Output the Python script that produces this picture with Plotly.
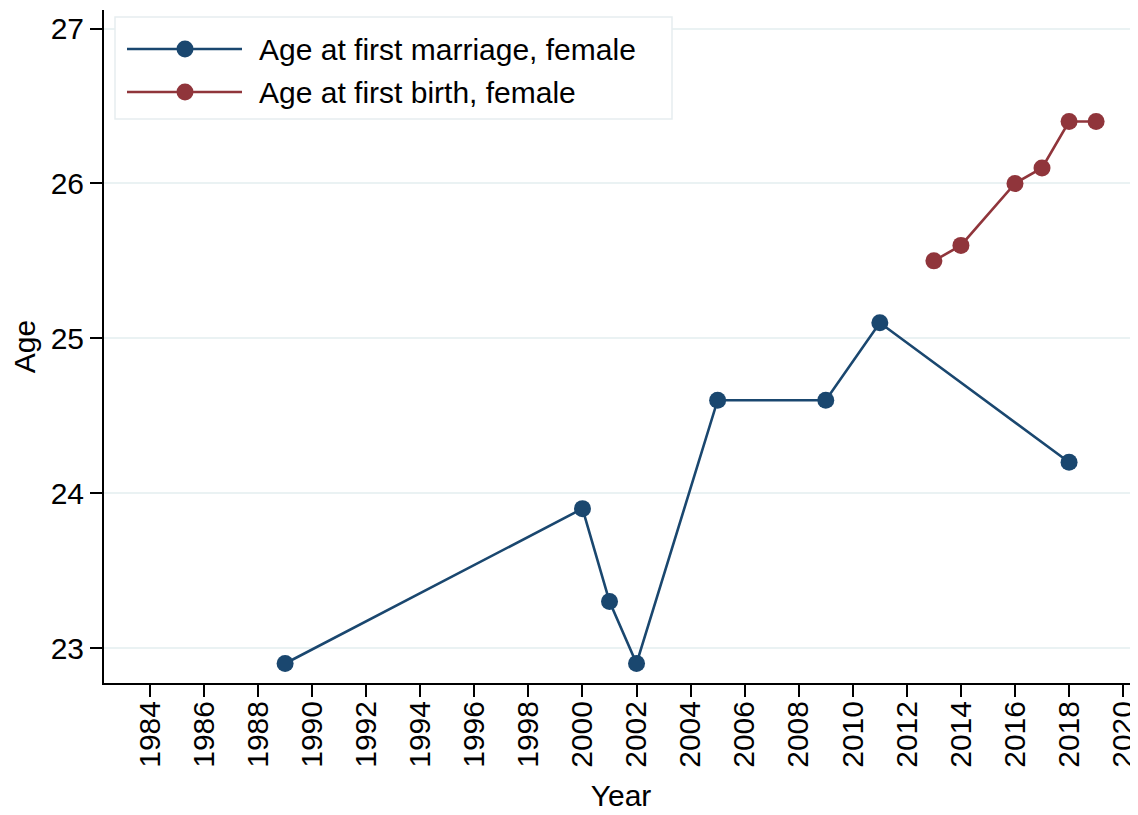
import plotly.graph_objects as go

marriage_years = [1989, 2000, 2001, 2002, 2005, 2009, 2011, 2018]
marriage_age = [22.9, 23.9, 23.3, 22.9, 24.6, 24.6, 25.1, 24.2]
birth_years = [2013, 2014, 2016, 2017, 2018, 2019]
birth_age = [25.5, 25.6, 26.0, 26.1, 26.4, 26.4]
series_names = ["Age at first marriage, female", "Age at first birth, female"]
colors = ["#1a476f", "#90353b"]

FONT = "Liberation Sans, Arial, Helvetica, sans-serif"
FS = 30

fig = go.Figure()
fig.add_trace(go.Scatter(x=marriage_years, y=marriage_age, mode="lines+markers",
                         name=series_names[0], showlegend=False,
                         line=dict(color=colors[0], width=2.6),
                         marker=dict(color=colors[0], size=17)))
fig.add_trace(go.Scatter(x=birth_years, y=birth_age, mode="lines+markers",
                         name=series_names[1], showlegend=False,
                         line=dict(color=colors[1], width=2.6),
                         marker=dict(color=colors[1], size=17)))

OFF = 8  # page body margin
W, H = 1138 - OFF, 815 - OFF
L, R, T = 104 - OFF, 0, 10 - OFF
B = H - (683 - OFF)
pw, ph = W - L - R, H - T - B

def px(x):
    return (x - OFF - L) / pw

def py(y):
    return (H - B - (y - OFF)) / ph

shapes = [dict(type="rect", xref="paper", yref="paper",
               x0=px(115), x1=px(672), y0=py(119), y1=py(17),
               line=dict(color="#e6edf0", width=1.5), fillcolor="white", layer="above")]
annotations = []
for i, (nm, c) in enumerate(zip(series_names, colors)):
    yy = 49 + i * 43
    shapes.append(dict(type="line", xref="paper", yref="paper",
                       x0=px(127), x1=px(242), y0=py(yy), y1=py(yy),
                       line=dict(color=c, width=2.6), layer="above"))
    shapes.append(dict(type="circle", xref="paper", yref="paper",
                       xsizemode="pixel", ysizemode="pixel",
                       xanchor=px(185), yanchor=py(yy),
                       x0=-8.5, x1=8.5, y0=-8.5, y1=8.5,
                       fillcolor=c, line=dict(color=c, width=0), layer="above"))
    annotations.append(dict(text=nm, xref="paper", yref="paper",
                            x=px(257), y=py(yy), xanchor="left", yanchor="middle",
                            showarrow=False, font=dict(size=FS, color="black", family=FONT)))

fig.update_layout(
    width=W, height=H,
    margin=dict(l=L, r=R, t=T, b=B),
    paper_bgcolor="white", plot_bgcolor="white",
    font=dict(family=FONT, size=FS, color="black"),
    shapes=shapes, annotations=annotations,
    showlegend=False,
)
fig.update_xaxes(range=[1982.3, 2020.55], tick0=1984, dtick=2, tickangle=-90,
                 automargin=False, ticklabeloverflow="allow", ticklabelstandoff=-8,
                 showgrid=False, zeroline=False, showline=True, linecolor="black",
                 linewidth=2, ticks="outside", ticklen=12, tickwidth=2, tickcolor="black",
                 tickfont=dict(size=FS), title=dict(text="Year", font=dict(size=FS), standoff=18))
fig.update_yaxes(range=[22.774, 27.12], tickvals=[23, 24, 25, 26, 27],
                 automargin=False, ticklabeloverflow="allow",
                 showgrid=True, gridcolor="#eaf2f3", gridwidth=2, zeroline=False,
                 showline=True, linecolor="black", linewidth=2, ticks="outside",
                 ticklen=12, tickwidth=2, tickcolor="black", tickfont=dict(size=FS),
                 title=dict(text="Age", font=dict(size=FS), standoff=14))

fig.write_html("out.html")
